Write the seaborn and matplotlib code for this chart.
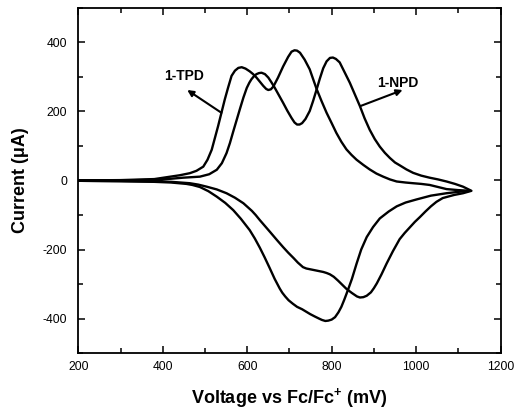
import numpy as np
import pandas as pd
import matplotlib
matplotlib.use("Agg")
import matplotlib.pyplot as plt
import seaborn as sns

# ---------------- data ----------------
# 1-TPD : oxidation (forward) sweep
tpd_ox_v = [200, 300, 380, 418, 440, 464, 480, 496, 506, 516, 531, 547, 555, 563, 571, 579,
            587, 596, 606, 614, 622, 630, 638, 645, 650, 656, 662, 673, 685, 697, 705, 712,
            718, 725, 736, 748, 756, 764, 776, 788, 800, 811, 823, 835, 847, 859, 875, 890,
            906, 922, 938, 954, 975, 993, 1012, 1032, 1052, 1072, 1100, 1128]
tpd_ox_i = [0, 1, 4, 11, 15, 21, 28, 40, 60, 89, 157, 235, 270, 303, 318, 326,
            328, 324, 316, 308, 298, 286, 274, 265, 262, 264, 272, 298, 330, 358, 373, 377,
            376, 370, 350, 322, 294, 266, 230, 196, 166, 138, 112, 90, 74, 60, 45, 32,
            20, 11, 3, -3, -6, -8, -10, -13, -19, -25, -28, -30]
# 1-TPD : reduction (reverse) sweep
tpd_red_v = [1128, 1100, 1072, 1035, 1001, 975, 954, 935, 914, 898, 883, 870, 859, 848,
             838, 830, 823, 816, 808, 800, 792, 785, 777, 770, 760, 749, 730, 718, 708,
             698, 690, 683, 677, 665, 653, 641, 630, 618, 606, 585, 567, 548, 528, 508,
             488, 470, 456, 420, 380, 300, 200]
tpd_red_i = [-30, -33, -37, -44, -55, -64, -75, -90, -110, -135, -164, -200, -241, -285,
             -319, -345, -366, -382, -396, -403, -406, -407, -404, -400, -394, -387, -373, -366, -357,
             -347, -336, -325, -313, -285, -253, -222, -195, -168, -144, -111, -86, -65, -47, -31,
             -19, -13, -10, -6, -4, -2, -1]

# 1-NPD : oxidation (forward) sweep
npd_ox_v = [200, 300, 380, 420, 448, 488, 510, 528, 540, 551, 559, 567, 575, 583, 591,
            599, 605, 610, 616, 622, 628, 634, 642, 650, 657, 665, 675, 685, 695, 705,
            712, 718, 724, 730, 738, 748, 756, 764, 772, 780, 788, 796, 803, 810, 819,
            830, 843, 855, 867, 878, 890, 902, 914, 926, 938, 950, 961, 977, 993, 1012,
            1032, 1052, 1072, 1092, 1111, 1131]
npd_ox_i = [0, 0, 2, 5, 8, 11, 18, 31, 50, 79, 108, 142, 175, 208, 240,
            268, 283, 293, 302, 308, 311, 312, 308, 298, 285, 269, 247, 225, 202, 181,
            168, 162, 162, 166, 178, 201, 230, 262, 295, 325, 345, 355, 356, 352, 342,
            315, 283, 249, 215, 180, 147, 120, 98, 80, 65, 52, 44, 32, 22, 14,
            8, 3, -3, -10, -18, -30]
# 1-NPD : reduction (reverse) sweep
npd_red_v = [1131, 1111, 1090, 1063, 1048, 1035, 1022, 1009, 997, 985, 973, 961, 945, 930,
             918, 907, 900, 893, 883, 875, 867, 860, 848, 835, 825, 815, 805, 796, 788,
             780, 764, 748, 740, 732, 720, 710, 697, 685, 670, 654, 642, 630, 620, 611,
             601, 591, 571, 551, 528, 504, 484, 464, 420, 380, 300, 200]
npd_red_i = [-30, -37, -42, -51, -62, -75, -90, -106, -120, -136, -152, -170, -205, -241,
             -272, -298, -312, -324, -334, -338, -339, -336, -326, -314, -302, -290, -279, -272, -268,
             -265, -261, -257, -255, -251, -238, -225, -209, -193, -172, -149, -132, -115, -100, -88,
             -77, -66, -50, -37, -26, -18, -12, -8, -4, -3, -2, -1]

compounds = ["1-TPD", "1-NPD"]
x_ticks = [200, 400, 600, 800, 1000, 1200]
y_ticks = [-400, -200, 0, 200, 400]

# ---------------- build tidy table ----------------
frames = []
for name, ov, oi, rv, ri in [("1-TPD", tpd_ox_v, tpd_ox_i, tpd_red_v, tpd_red_i),
                             ("1-NPD", npd_ox_v, npd_ox_i, npd_red_v, npd_red_i)]:
    v = list(ov) + list(rv)
    i = list(oi) + list(ri)
    frames.append(pd.DataFrame({"V": v, "I": i, "curve": name}))
df = pd.concat(frames, ignore_index=True)

# ---------------- style ----------------
sns.set_theme(style="ticks")
plt.rcParams["font.family"] = ["Liberation Sans", "DejaVu Sans"]
plt.rcParams["mathtext.fontset"] = "custom"
plt.rcParams["mathtext.rm"] = "Liberation Sans"
plt.rcParams["mathtext.bf"] = "Liberation Sans:bold"
plt.rcParams["axes.unicode_minus"] = False
plt.rcParams["text.color"] = "black"
plt.rcParams["axes.labelcolor"] = "black"
plt.rcParams["xtick.color"] = "black"
plt.rcParams["ytick.color"] = "black"

fig = plt.figure(figsize=(5.15, 4.12), dpi=100)
ax = fig.add_axes([0.152, 0.143, 0.820, 0.838])

sns.lineplot(data=df, x="V", y="I", units="curve", estimator=None, sort=False,
             color="black", linewidth=1.7, ax=ax, legend=False)
for ln in ax.lines:
    ln.set_solid_joinstyle("round")

ax.set_xlim(200, 1200)
ax.set_ylim(-500, 500)
ax.set_xticks(x_ticks)
ax.set_yticks(y_ticks)
ax.set_xticks(np.arange(300, 1200, 200), minor=True)
ax.set_yticks([-500, -300, -100, 100, 300, 500], minor=True)

ax.tick_params(which="both", direction="in", top=True, right=True, colors="black",
               labelcolor="black", labelsize=8.7, width=1.1)
ax.tick_params(which="major", length=5, pad=6)
ax.tick_params(which="minor", length=3.5)
ax.tick_params(axis="y", which="major", pad=8)
for s in ax.spines.values():
    s.set_color("black")
    s.set_linewidth(1.3)

ax.set_xlabel(r"Voltage vs Fc/Fc$^{\mathbf{+}}$ (mV)", fontsize=13, fontweight="bold",
              labelpad=9, color="black")
ax.set_ylabel("Current (μA)", fontsize=13, fontweight="bold", labelpad=10, color="black")

# ---------------- annotations ----------------
arrow_kw = dict(arrowstyle="-|>", color="black", lw=1.5, mutation_scale=9, shrinkA=0, shrinkB=0)
ax.text(450, 302, compounds[0], ha="center", va="center", fontsize=10, fontweight="bold",
        color="black")
ax.annotate("", xy=(458, 262), xytext=(539, 196), arrowprops=arrow_kw)
ax.text(956, 281, compounds[1], ha="center", va="center", fontsize=10, fontweight="bold",
        color="black")
ax.annotate("", xy=(968, 262), xytext=(867, 215), arrowprops=arrow_kw)

fig.savefig("out.png", dpi=100)
